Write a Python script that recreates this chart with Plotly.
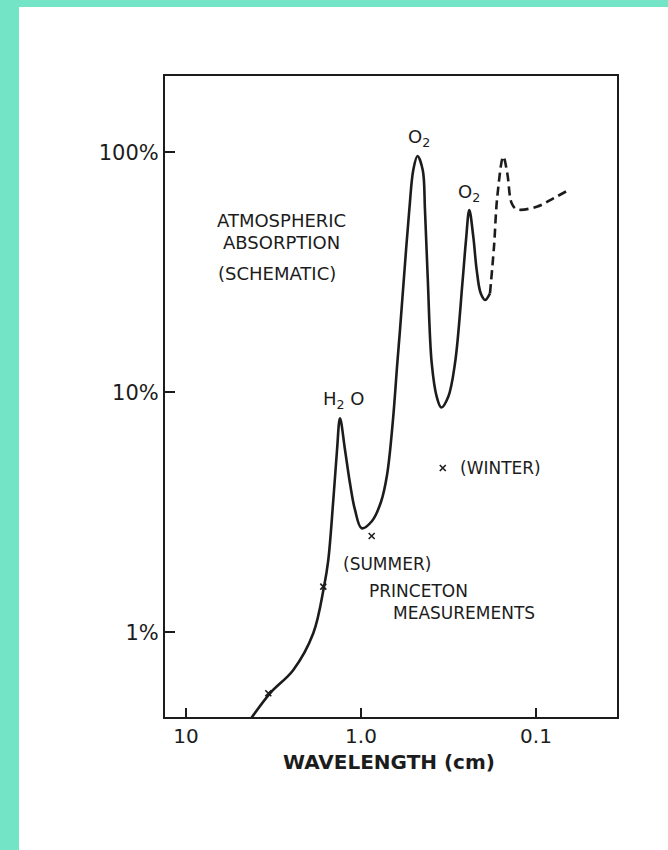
import plotly.graph_objects as go

# ---------------- data (wavelength in cm, absorption in %) ----------------
solid_wavelength = [4.309, 3.311, 2.437, 1.874, 1.627, 1.538, 1.440, 1.371, 1.318,
                    1.234, 1.156, 1.082, 0.991, 0.865, 0.769, 0.710, 0.659, 0.620,
                    0.5986, 0.568, 0.5297, 0.5026, 0.4755, 0.4439, 0.4309, 0.4158,
                    0.3945, 0.3694, 0.348, 0.3172, 0.2903, 0.2624,
                    0.2512, 0.2405, 0.2282, 0.2182, 0.207, 0.1955, 0.1832]
solid_absorption = [0.4315, 0.557, 0.697, 0.991, 1.549, 2.0, 3.556, 5.75, 7.795,
                    5.75, 4.178, 3.234, 2.713, 2.909, 3.49, 4.523, 7.45, 13.25,
                    18.19, 30.22, 57.5, 84.4, 96.5, 84.4, 57.5, 30.22,
                    13.25, 9.59, 8.645, 9.59, 13.21, 29.38,
                    43.1, 57.5, 44.5, 32.3, 25.85, 24.25, 25.85]

dashed_wavelength = [0.1832, 0.1738, 0.1664, 0.1538, 0.1459, 0.1377, 0.1289,
                     0.0991, 0.0796, 0.0639]
dashed_absorption = [25.85, 40.4, 65.3, 95.9, 81.7, 61.3, 57.9, 59.3, 64.3, 70.1]

summer_wavelength = [3.386, 1.642, 0.869]
summer_absorption = [0.557, 1.549, 2.518]
winter_wavelength = [0.341]
winter_absorption = [4.837]

x_tick_values = [10, 1, 0.1]
x_tick_labels = ["10", "1.0", "0.1"]
y_tick_values = [1, 10, 100]
y_tick_labels = ["1%", "10%", "100%"]

# ---------------- layout geometry ----------------
W, H = 668, 850
L, R, T, B = 165, 617, 76, 717  # plot-area pixel edges
PW, PH = R - L, B - T


def px(x):
    return (x - L) / PW


def py(y):
    return (B - y) / PH


FONT = "DejaVu Sans"
INK = "#1c1c1c"

fig = go.Figure()

fig.add_trace(go.Scatter(
    x=solid_wavelength, y=solid_absorption, mode="lines",
    line=dict(color=INK, width=2.6, shape="spline", smoothing=1.0),
    hoverinfo="skip", showlegend=False))

fig.add_trace(go.Scatter(
    x=dashed_wavelength, y=dashed_absorption, mode="lines",
    line=dict(color=INK, width=2.6, shape="spline", smoothing=1.0, dash="9px,5px"),
    hoverinfo="skip", showlegend=False))

fig.add_trace(go.Scatter(
    x=summer_wavelength, y=summer_absorption, mode="markers",
    marker=dict(symbol="x-thin", size=6, line=dict(color=INK, width=1.6)),
    hoverinfo="skip", showlegend=False))

fig.add_trace(go.Scatter(
    x=winter_wavelength, y=winter_absorption, mode="markers",
    marker=dict(symbol="x-thin", size=6, line=dict(color=INK, width=1.6)),
    hoverinfo="skip", showlegend=False))

# axis ranges from the pixel calibration (10 cm at x=186, 175 px/decade;
# 100 % at y=152.3, 240 px/decade)
x_lo, x_hi = 1 + (186 - L) / 175.0, 1 - (R - 186) / 175.0
y_lo, y_hi = 2 - (B - 152.3) / 240.0, 2 + (152.3 - T) / 240.0

fig.update_xaxes(
    type="log", range=[x_lo, x_hi],
    tickvals=x_tick_values, ticktext=x_tick_labels,
    ticks="inside", ticklen=9, tickwidth=2, tickcolor=INK,
    showline=True, linecolor=INK, linewidth=2, mirror=True,
    showgrid=False, zeroline=False,
    tickfont=dict(family=FONT, size=20, color=INK))

fig.update_yaxes(
    type="log", range=[y_lo, y_hi],
    tickvals=y_tick_values, ticktext=y_tick_labels,
    ticks="inside", ticklen=10, tickwidth=2, tickcolor=INK,
    showline=True, linecolor=INK, linewidth=2, mirror=True,
    showgrid=False, zeroline=False,
    tickfont=dict(family=FONT, size=21, color=INK))

# white sheet over a coloured backdrop
fig.add_shape(type="rect", xref="paper", yref="paper", layer="below",
              x0=px(19), x1=px(W + 20), y0=py(H + 20), y1=py(7),
              fillcolor="white", line=dict(width=0))

annotations = [
    ("ATMOSPHERIC", 281, 221, 18),
    ("ABSORPTION", 281, 242, 18),
    ("(SCHEMATIC)", 277, 273, 18),
    ("H<sub>2</sub> O", 343, 400, 18),
    ("O<sub>2</sub>", 419, 138, 18),
    ("O<sub>2</sub>", 469, 193, 18),
    ("(WINTER)", 500, 468, 17),
    ("(SUMMER)", 387, 564, 17),
    ("PRINCETON", 418, 591, 17),
    ("MEASUREMENTS", 464, 613, 17),
]
for text, x, y, size in annotations:
    fig.add_annotation(text=text, x=px(x), y=py(y), xref="paper", yref="paper",
                       showarrow=False, xanchor="center", yanchor="middle",
                       font=dict(family=FONT, size=size, color=INK))

fig.add_annotation(text="<b>WAVELENGTH (cm)</b>", x=px(389), y=py(762),
                   xref="paper", yref="paper", showarrow=False,
                   xanchor="center", yanchor="middle",
                   font=dict(family=FONT, size=20, color=INK))

fig.update_layout(
    width=W, height=H,
    margin=dict(l=L, r=W - R, t=T, b=H - B, pad=0),
    paper_bgcolor="#74e4c6", plot_bgcolor="white",
    showlegend=False)

fig.write_html("out.html",
               config={"displayModeBar": False},
               post_script="document.body.style.margin='0';"
                           "document.body.style.padding='0';")
